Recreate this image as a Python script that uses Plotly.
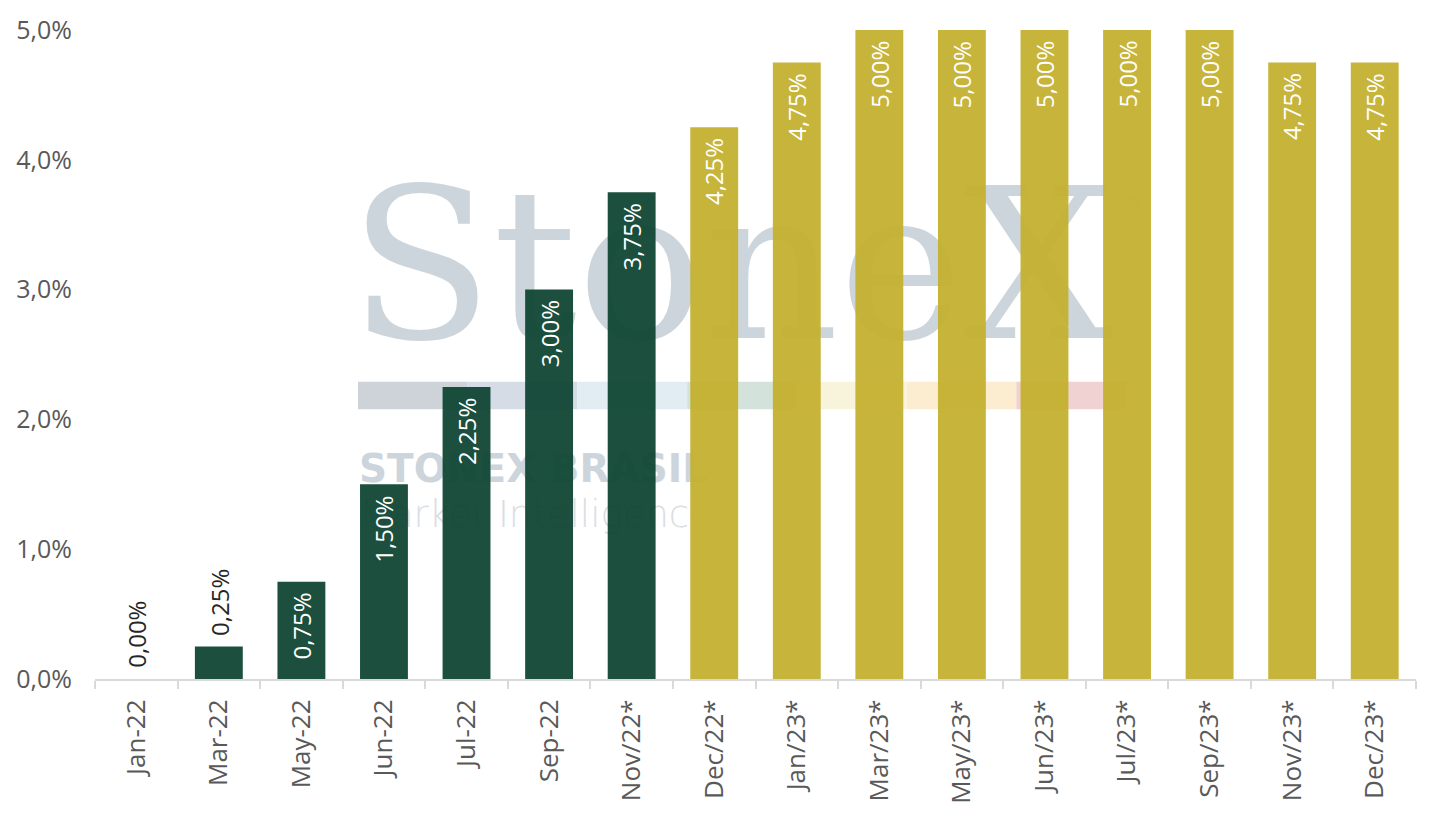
import plotly.graph_objects as go

months = ["Jan-22", "Mar-22", "May-22", "Jun-22", "Jul-22", "Sep-22", "Nov/22*",
          "Dec/22*", "Jan/23*", "Mar/23*", "May/23*", "Jun/23*", "Jul/23*",
          "Sep/23*", "Nov/23*", "Dec/23*"]
rate = [0.00, 0.25, 0.75, 1.50, 2.25, 3.00, 3.75,
        4.25, 4.75, 5.00, 5.00, 5.00, 5.00, 5.00, 4.75, 4.75]
n_green = 7  # bars drawn in dark green, rest in gold
label_inside = [False, False] + [True] * 14
y_ticks = [0, 1, 2, 3, 4, 5]
y_ticktext = ["0,0%", "1,0%", "2,0%", "3,0%", "4,0%", "5,0%"]

GREEN = "#104634"
GOLD = "#c5b130"
WM = "#cdd5dc"
FONT = "Open Sans"

W, H = 1438, 816


def fy(y):
    # the photographed page comes out slightly squeezed vertically,
    # so map a wanted on-screen y to the figure's own pixel y
    return (y - 4.5) / 0.98


L, R = 95, 22
T = round(fy(26))
B = H - round(fy(687))
PX0, PX1 = L, W - R
PY0, PY1 = T, H - B


def px(x):
    return (x - PX0) / (PX1 - PX0)


def py(y):
    return (PY1 - fy(y)) / (PY1 - PY0)


colors = [GREEN if i < n_green else GOLD for i in range(len(months))]

fig = go.Figure()
fig.add_trace(go.Bar(
    x=months, y=rate,
    marker=dict(color=colors, line=dict(width=0)),
    opacity=0.95,
    hoverinfo="skip",
))

# value labels, rotated, inside the top of the bar or just above it
for m, v, inside in zip(months, rate, label_inside):
    fig.add_annotation(
        x=m, y=v, text=f"{v:.2f}%".replace(".", ","),
        textangle=-90, showarrow=False,
        yanchor="top" if inside else "bottom",
        yshift=-9 if inside else 9,
        font=dict(family=FONT, size=24, color="white" if inside else "#262626"),
    )

# watermark, drawn beneath the bars
shapes = []
strip = ["#cdd3d9", "#d5dce6", "#e2edf3", "#d3e3db", "#f8f4dc", "#fcecd0", "#f0d2d2"]
x0 = 358
seg = (1126 - 358) / len(strip)
for i, c in enumerate(strip):
    shapes.append(dict(type="rect", xref="paper", yref="paper", layer="below",
                       x0=px(x0 + i * seg), x1=px(x0 + (i + 1) * seg),
                       y0=py(412), y1=py(384), fillcolor=c, line=dict(width=0)))


def wm_text(text, xa, xb, ya, yb, font):
    return dict(type="rect", xref="paper", yref="paper", layer="below",
                x0=px(xa), x1=px(xb), y0=py(yb), y1=py(ya),
                fillcolor="rgba(0,0,0,0)", line=dict(width=0),
                label=dict(text=text, textposition="middle left", padding=0,
                           font=font))


shapes.append(wm_text("StoneX", 346, 1140, 155, 345,
                      dict(family="DejaVu Serif", size=210, color=WM)))
shapes.append(wm_text("®", 1122, 1150, 185, 215,
                      dict(family="DejaVu Sans", size=18, color=WM)))
shapes.append(wm_text("STONEX BRASIL", 356, 760, 450, 488,
                      dict(family="DejaVu Sans", size=39, color=WM, weight="bold")))
shapes.append(wm_text("Market Intelligence", 356, 780, 496, 536,
                      dict(family="DejaVu Sans", size=37, color="#d9dee3", weight=200)))

fig.update_layout(
    width=W, height=H,
    margin=dict(l=L, r=R, t=T, b=B),
    plot_bgcolor="white", paper_bgcolor="white",
    showlegend=False,
    separators=",.",
    bargap=0.42,
    shapes=shapes,
    font=dict(family=FONT, color="#595959"),
    xaxis=dict(
        type="category", tickangle=-90, tickson="boundaries",
        ticks="outside", ticklen=8, tickwidth=2, tickcolor="#d9d9d9",
        showline=True, linecolor="#d9d9d9", linewidth=2,
        showgrid=False, ticklabelstandoff=8,
        tickfont=dict(size=26, color="#595959"),
    ),
    yaxis=dict(
        range=[0, 5], tickvals=y_ticks, ticktext=y_ticktext,
        showgrid=False, zeroline=False, showline=False, ticks="",
        ticklabelstandoff=22, ticklabeloverflow="allow",
        tickfont=dict(size=25, color="#595959"),
    ),
)

# make the page exactly the size of the figure (no body margin, no overflow)
page_fix = (
    "var s=document.createElement('style');"
    "s.textContent='html,body{margin:0;padding:0;width:%dpx;height:%dpx;"
    "overflow:hidden;}';"
    "document.head.appendChild(s);" % (W, H)
)
fig.write_html("out.html", config={"displayModeBar": False}, post_script=page_fix)
